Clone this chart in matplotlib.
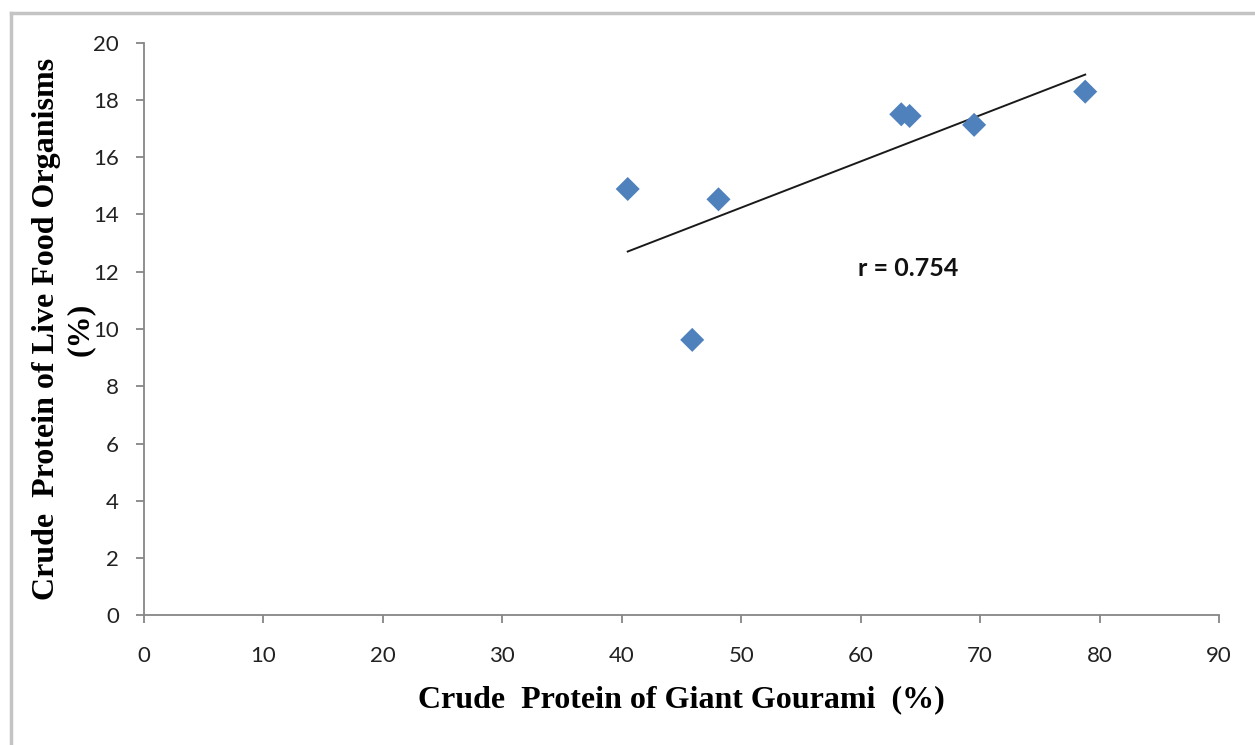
''' scatter of crude protein: giant gourami vs live food organisms '''
import numpy as np
import matplotlib
matplotlib.use('Agg')
import matplotlib.pyplot as plt
from matplotlib.lines import Line2D

# crude protein (%)
gourami = [40.5, 48.1, 45.9, 63.4, 64.1, 69.5, 78.8]
live_food = [14.89, 14.53, 9.62, 17.50, 17.44, 17.13, 18.29]

x_ticks = list(range(0, 100, 10))
y_ticks = list(range(0, 22, 2))


def main():
    ''' draw and save '''
    fig = plt.figure(figsize=(12.55, 7.45), dpi=100)
    ax = fig.add_axes([0.1147, 0.1741, 0.8566, 0.7686])

    # outer chart-area frame (only top and left edge visible in crop)
    frame_col = '#c4c4c4'
    fig.add_artist(Line2D([11 / 1255, 11 / 1255], [0, 1 - 13 / 745],
                          transform=fig.transFigure, color=frame_col, lw=2.5))
    fig.add_artist(Line2D([11 / 1255, 1], [1 - 13 / 745, 1 - 13 / 745],
                          transform=fig.transFigure, color=frame_col, lw=2.5))

    ax.scatter(gourami, live_food, marker='D', s=150, color='#4f81bd',
               edgecolors='none', zorder=3)

    # linear trendline through the points
    slope, icpt = np.polyfit(gourami, live_food, 1)
    xs = np.array([min(gourami), max(gourami)])
    ax.plot(xs, slope * xs + icpt, color='#1a1a1a', lw=1.4, zorder=2)

    r = np.corrcoef(gourami, live_food)[0, 1]
    ax.text(59.8, 12.13, f'r = {r:.3f}', fontsize=18, fontweight='bold',
            family='Lato', ha='left', va='center', color='#111111')

    ax.set_xlim(0, 90)
    ax.set_ylim(0, 20)
    ax.set_xticks(x_ticks)
    ax.set_yticks(y_ticks)

    for side in ['top', 'right']:
        ax.spines[side].set_visible(False)
    for side in ['left', 'bottom']:
        ax.spines[side].set_color('#868686')
        ax.spines[side].set_linewidth(1.3)

    ax.tick_params(axis='both', direction='out', length=6, width=1.3,
                   color='#868686', labelsize=16, labelcolor='#222222')
    ax.tick_params(axis='y', pad=12)
    ax.tick_params(axis='x', pad=16)
    for lab in ax.get_xticklabels() + ax.get_yticklabels():
        lab.set_family('Lato')

    ax.set_xlabel('Crude  Protein of Giant Gourami  (%)', family='Liberation Serif',
                  fontweight='bold', fontsize=23, va='center')
    ax.xaxis.set_label_coords(0.5, -0.148)
    ax.set_ylabel('Crude  Protein of Live Food Organisms',
                  family='Liberation Serif', fontweight='bold', fontsize=23,
                  va='center', ha='center')
    ax.yaxis.set_label_coords(-0.0911, 0.5)
    # second line of the y title
    ax.text(-0.0595, 0.5, '(%)', transform=ax.transAxes, rotation=90,
            rotation_mode='anchor', family='Liberation Serif',
            fontweight='bold', fontsize=23, ha='center', va='center')

    fig.savefig('out.png', dpi=100)


if __name__ == '__main__':
    main()
